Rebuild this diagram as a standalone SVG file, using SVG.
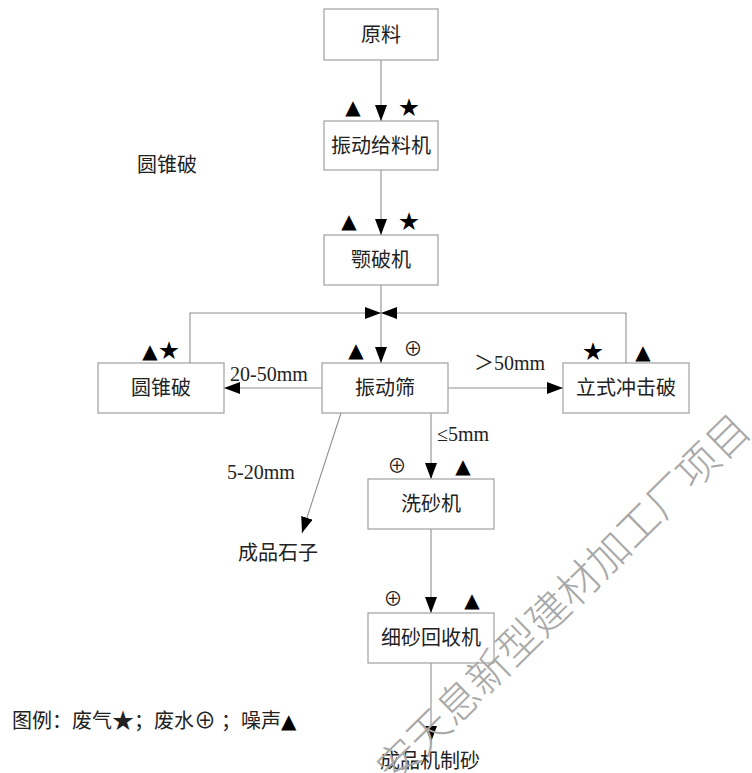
<svg xmlns="http://www.w3.org/2000/svg" width="752" height="773" viewBox="0 0 752 773">
<style>
.box{fill:#fff;stroke:#a0a0a0;stroke-width:1.2}
.ln{fill:none;stroke:#909090;stroke-width:1.1}
.t{font-family:"Liberation Serif","Noto Sans CJK SC",serif;font-size:20px;fill:#222}
.c{text-anchor:middle}
.s{font-family:"DejaVu Sans",sans-serif;font-size:20px;fill:#000;text-anchor:middle}
.st{font-family:"Noto Sans CJK SC",sans-serif;font-size:20px;fill:#000;text-anchor:middle}
.o{font-family:"Noto Sans CJK SC",sans-serif;font-size:19px;fill:#222;text-anchor:middle}
.wm{font-family:"Noto Sans CJK SC",sans-serif;font-size:42px;fill:#a8a8a8;font-weight:300}
</style>
<defs>
<marker id="ab" viewBox="0 0 16 12" refX="16" refY="6" markerWidth="16" markerHeight="12" markerUnits="userSpaceOnUse" orient="auto">
<path d="M0,0 L16,6 L0,12 Z" fill="#000"/>
</marker>
</defs>
<rect width="752" height="773" fill="#fff"/>
<g id="connectors">
<line class="ln" x1="381" y1="60" x2="381" y2="121" marker-end="url(#ab)"/>
<line class="ln" x1="381" y1="170" x2="381" y2="235" marker-end="url(#ab)"/>
<line class="ln" x1="381" y1="285" x2="381" y2="363" marker-end="url(#ab)"/>
<polyline class="ln" points="190,363 190,313 381,313" marker-end="url(#ab)"/>
<polyline class="ln" points="626,363 626,313 381,313" marker-end="url(#ab)"/>
<line class="ln" x1="322" y1="388" x2="224" y2="388" marker-end="url(#ab)"/>
<line class="ln" x1="448" y1="388" x2="563" y2="388" marker-end="url(#ab)"/>
<line class="ln" x1="341" y1="413" x2="302" y2="533" marker-end="url(#ab)"/>
<line class="ln" x1="431" y1="413" x2="431" y2="479" marker-end="url(#ab)"/>
<line class="ln" x1="431" y1="529" x2="431" y2="613" marker-end="url(#ab)"/>
<line class="ln" x1="431" y1="663" x2="431" y2="742" marker-end="url(#ab)"/>
</g>
<g id="n-yuanliao"><rect class="box" x="324" y="9" width="114" height="51"/><text class="t c" x="381" y="42">原料</text></g>
<g id="n-feeder"><rect class="box" x="324" y="121" width="114" height="49"/><text class="t c" x="381" y="153">振动给料机</text></g>
<g id="n-jaw"><rect class="box" x="324" y="235" width="114" height="50"/><text class="t c" x="381" y="267">颚破机</text></g>
<g id="n-screen"><rect class="box" x="322" y="363" width="126" height="50"/><text class="t c" x="385" y="395">振动筛</text></g>
<g id="n-cone"><rect class="box" x="98" y="363" width="126" height="50"/><text class="t c" x="161" y="395">圆锥破</text></g>
<g id="n-impact"><rect class="box" x="563" y="363" width="126" height="50"/><text class="t c" x="626" y="395">立式冲击破</text></g>
<g id="n-wash"><rect class="box" x="368" y="479" width="126" height="50"/><text class="t c" x="431" y="511">洗砂机</text></g>
<g id="n-recover"><rect class="box" x="368" y="613" width="126" height="50"/><text class="t c" x="431" y="645">细砂回收机</text></g>
<g id="labels">
<text class="t" x="137" y="172">圆锥破</text>
<text class="t" x="230" y="381">20-50mm</text>
<text class="t" x="474" y="370">＞50mm</text>
<text class="t" x="437" y="441">≤5mm</text>
<text class="t" x="227" y="479">5-20mm</text>
<text class="t" x="238" y="560">成品石子</text>
<text class="t" x="380" y="768">成品机制砂</text>
<text class="t" x="12" y="728">图例：废气<tspan font-size="22">★</tspan>；废水<tspan font-size="22">⊕</tspan> ；噪声<tspan font-family="DejaVu Sans" font-size="20" fill="#000">▲</tspan></text>
</g>
<g id="symbols">
<text class="s" x="353" y="114">▲</text><text class="st" x="409" y="115">★</text>
<text class="s" x="349" y="228">▲</text><text class="st" x="409" y="229">★</text>
<text class="s" x="150" y="358">▲</text><text class="st" x="169" y="358">★</text>
<text class="s" x="356" y="357">▲</text><text class="o" x="413" y="356">⊕</text>
<text class="st" x="593" y="359">★</text><text class="s" x="643" y="359">▲</text>
<text class="o" x="397" y="473">⊕</text><text class="s" x="463" y="473">▲</text>
<text class="o" x="393" y="606">⊕</text><text class="s" x="472" y="607">▲</text>
</g>
<text class="wm" text-anchor="middle" dominant-baseline="central" transform="translate(561,596) rotate(-44.6)">安天息新型建材加工厂项目</text>
</svg>
